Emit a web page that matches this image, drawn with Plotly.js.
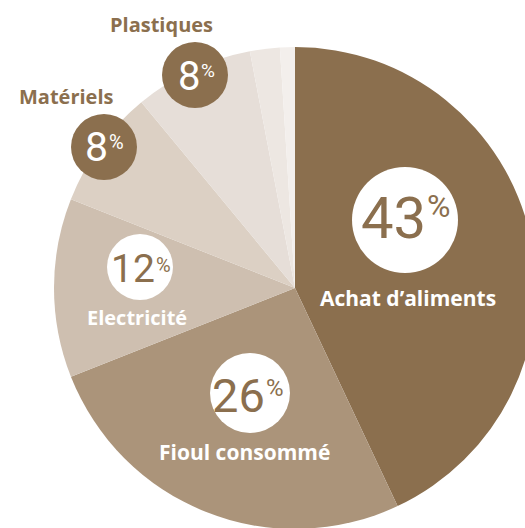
<!DOCTYPE html>
<html>
<head>
<meta charset="utf-8">
<script src="https://cdn.plot.ly/plotly-3.0.1.min.js"></script>
<style>
html,body{margin:0;padding:0;overflow:hidden;background:#fff;}
#chart{width:600px;height:600px;}
</style>
</head>
<body>
<div id="chart"></div>
<script>
// Data
const labels = ["Achat d’aliments", "Fioul consommé", "Electricité", "Matériels", "Plastiques", "Autres 1", "Autres 2"];
const values = [43, 26, 12, 8, 8, 2, 1];
const colors = ["#8B6F4E", "#AB947A", "#CEBFB0", "#DCD0C4", "#E6DED8", "#EDE7E2", "#F3EFEC"];

const W = 600, H = 600;
const BROWN = "#8B6F4E";
function px(x){ return x / W; }
function py(y){ return 1 - y / H; }

// label layout (positions in page pixels)
const marks = [
  {i:0, cx:405, cy:220, r:53, fill:"#ffffff", numColor:BROWN, numSize:58, pctSize:32, dr:428, dy:218, py_:206, nx:408, ny:298, nameColor:"#ffffff", nameSize:21},
  {i:1, cx:250, cy:393, r:40, fill:"#ffffff", numColor:BROWN, numSize:47, pctSize:24, dr:267, dy:395, py_:388, nx:244, ny:452, nameColor:"#ffffff", nameSize:21},
  {i:2, cx:140, cy:267, r:33, fill:"#ffffff", numColor:BROWN, numSize:39, pctSize:20, dr:157, dy:269, py_:265, nx:137, ny:317, nameColor:"#ffffff", nameSize:20},
  {i:3, cx:104, cy:147, r:33, fill:BROWN, numColor:"#ffffff", numSize:41, pctSize:20, dr:110, dy:147, py_:142, nx:66, ny:96, nameColor:BROWN, nameSize:20},
  {i:4, cx:195, cy:75, r:33, fill:BROWN, numColor:"#ffffff", numSize:40, pctSize:19, dr:202, dy:77, py_:71, nx:161, ny:25, nameColor:BROWN, nameSize:20}
];

const shapes = [];
const annotations = [];
marks.forEach(m => {
  shapes.push({type:"circle", xref:"paper", yref:"paper",
    x0:px(m.cx - m.r), x1:px(m.cx + m.r), y0:py(m.cy + m.r), y1:py(m.cy - m.r),
    fillcolor:m.fill, line:{width:0}, layer:"above"});
  annotations.push({xref:"paper", yref:"paper", x:px(m.dr), y:py(m.dy), xanchor:"right", yanchor:"middle",
    text:String(values[m.i]), showarrow:false,
    font:{family:"Roboto, sans-serif", size:m.numSize, color:m.numColor, weight:400}});
  annotations.push({xref:"paper", yref:"paper", x:px(m.dr - 3), y:py(m.py_), xanchor:"left", yanchor:"middle",
    text:"%", showarrow:false,
    font:{family:"Roboto, sans-serif", size:m.pctSize, color:m.numColor, weight:400}});
  annotations.push({xref:"paper", yref:"paper", x:px(m.nx), y:py(m.ny), xanchor:"center", yanchor:"middle",
    text:labels[m.i], showarrow:false,
    font:{family:"Open Sans, sans-serif", size:m.nameSize, color:m.nameColor, weight:700}});
});

const trace = {
  type:"pie",
  labels:labels,
  values:values,
  sort:false,
  direction:"clockwise",
  rotation:0,
  marker:{colors:colors, line:{width:0}},
  textinfo:"none",
  hoverinfo:"none",
  domain:{x:[54/W, 536/W], y:[1 - 529/H, 1 - 47/H]}
};

Plotly.newPlot("chart", [trace], {
  width:W, height:H,
  margin:{l:0, r:0, t:0, b:0},
  showlegend:false,
  paper_bgcolor:"#ffffff",
  shapes:shapes,
  annotations:annotations
}, {staticPlot:true});
</script>
</body>
</html>
